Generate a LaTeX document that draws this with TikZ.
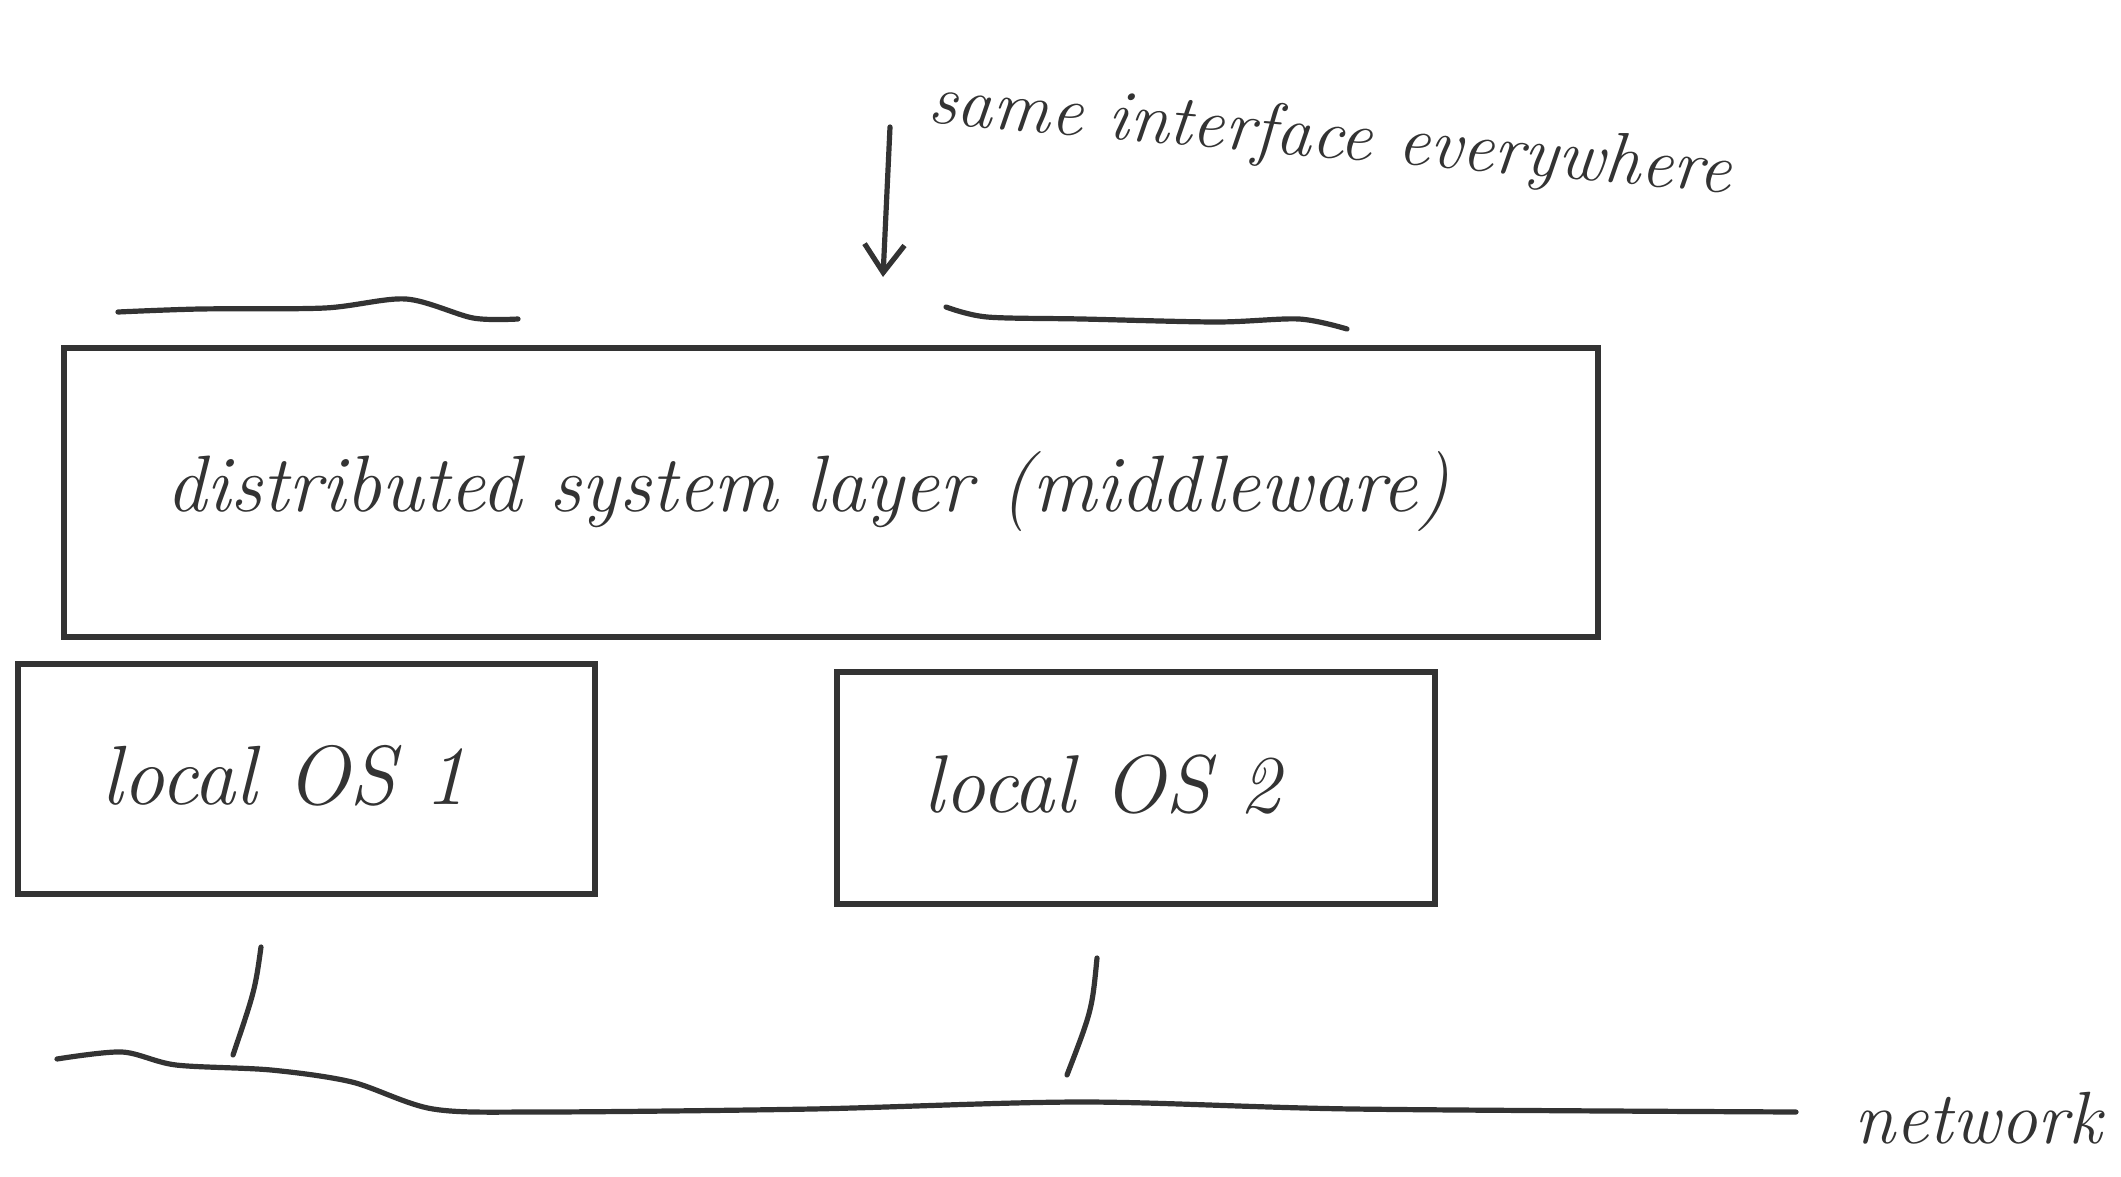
\documentclass[tikz,border=0pt]{standalone}
\usetikzlibrary{arrows.meta}
\definecolor{ink}{HTML}{333333}
\tikzset{
  pen/.style={draw=ink, line width=2.6pt, line cap=round, line join=round},
  hand/.style={text=ink, font=\itshape, inner sep=1pt},
  boxstyle/.style={draw=ink, line width=2.6pt}
}
\begin{document}
\begin{tikzpicture}[x=0.5pt,y=-0.5pt]
\useasboundingbox[fill=white] (0,0) rectangle (2121,1177);
% boxes
\draw[boxstyle] (64,348) rectangle (1598,637);
\draw[boxstyle] (18,664) rectangle (595,894);
\draw[boxstyle] (837,672) rectangle (1435,904);
% texts
\node[hand, font=\itshape\fontsize{40}{44}\selectfont] (mw) at (808,492) {distributed system layer (middleware)};
\node[hand, font=\itshape\fontsize{42}{46}\selectfont] (os1) at (284,776) {local OS 1};
\node[hand, font=\itshape\fontsize{41}{45}\selectfont] (os2) at (1102,784) {local OS 2};
\node[hand, font=\itshape\fontsize{36}{40}\selectfont, rotate=-5] (same) at (1330,140) {same interface everywhere};
\node[hand, font=\itshape\fontsize{37}{41}\selectfont] (net) at (1978,1118) {network};
% arrow
\coordinate (a1) at (890,127);
\coordinate (a2) at (883,277);
\draw[pen, -{Straight Barb[length=14pt,width=20pt,line width=2.6pt]}] (a1) -- (a2);
% overlines
\draw[pen] plot[smooth] coordinates {(118,312) (200,309) (325,308) (406,299) (473,318) (518,319)};
\draw[pen] plot[smooth] coordinates {(946,307) (987,317) (1082,319) (1217,322) (1299,319) (1347,329)};
% ticks
\draw[pen] (261,947) .. controls (255,990) .. (233,1055);
\draw[pen] (1097,958) .. controls (1092,1010) .. (1067,1075);
% network line
\draw[pen] plot[smooth] coordinates {(57,1059) (122,1052) (176,1065) (271,1070) (352,1082) (433,1109) (541,1112) (812,1109) (1082,1102) (1353,1109) (1796,1112)};
\end{tikzpicture}
\end{document}
